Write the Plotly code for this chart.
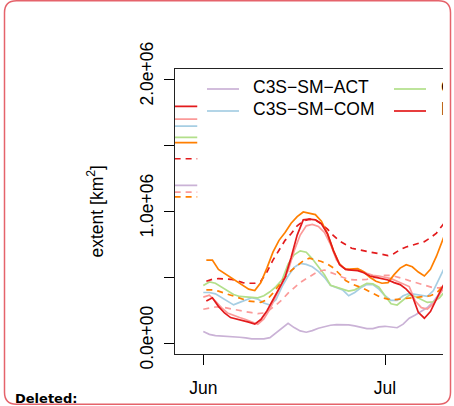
import pandas as pd
import plotly.graph_objects as go

# ---------------------------------------------------------------------------
# Daily extent values, in 10^6 km^2, from 1 June (41 days)
# ---------------------------------------------------------------------------
act = [0.089, 0.068, 0.058, 0.056, 0.051, 0.051, 0.046, 0.041, 0.033, 0.033,
       0.033, 0.043, 0.081, 0.119, 0.152, 0.119, 0.094, 0.084, 0.096, 0.114,
       0.127, 0.137, 0.142, 0.142, 0.139, 0.132, 0.119, 0.111, 0.111, 0.124,
       0.129, 0.125, 0.118, 0.145, 0.190, 0.215, 0.246, 0.271, 0.316, 0.380,
       0.443]
com = [0.385, 0.385, 0.375, 0.349, 0.320, 0.291, 0.310, 0.330, 0.345, 0.335,
       0.305, 0.290, 0.330, 0.430, 0.510, 0.575, 0.605, 0.598, 0.580, 0.545,
       0.500, 0.440, 0.420, 0.405, 0.360, 0.385, 0.420, 0.445, 0.445, 0.410,
       0.360, 0.325, 0.325, 0.360, 0.378, 0.370, 0.360, 0.355, 0.400, 0.500,
       0.590]
pas = [0.438, 0.465, 0.455, 0.425, 0.395, 0.370, 0.355, 0.350, 0.350, 0.345,
       0.360, 0.390, 0.430, 0.480, 0.600, 0.670, 0.700, 0.690, 0.640, 0.580,
       0.520, 0.440, 0.425, 0.410, 0.395, 0.405, 0.430, 0.455, 0.450, 0.425,
       0.360, 0.300, 0.290, 0.330, 0.365, 0.355, 0.335, 0.310, 0.315, 0.345,
       0.400]
era5 = [0.320, 0.345, 0.280, 0.230, 0.195, 0.185, 0.170, 0.160, 0.145, 0.180,
        0.245, 0.330, 0.410, 0.500, 0.650, 0.820, 0.935, 0.940, 0.935, 0.905,
        0.830, 0.700, 0.595, 0.560, 0.555, 0.550, 0.535, 0.510, 0.500, 0.490,
        0.480, 0.460, 0.445, 0.410, 0.360, 0.235, 0.190, 0.240, 0.340, 0.430,
        0.500]
era5_land = [0.350, 0.365, 0.320, 0.270, 0.230, 0.210, 0.195, 0.180, 0.160, 0.145,
             0.185, 0.260, 0.360, 0.460, 0.550, 0.700, 0.820, 0.890, 0.900, 0.885,
             0.840, 0.750, 0.630, 0.575, 0.555, 0.555, 0.555, 0.530, 0.515, 0.510,
             0.500, 0.490, 0.470, 0.450, 0.430, 0.320, 0.270, 0.260, 0.300, 0.370,
             0.440]
gldas = [0.630, 0.630, 0.560, 0.530, 0.500, 0.475, 0.445, 0.410, 0.400, 0.460,
         0.570, 0.690, 0.780, 0.840, 0.910, 0.960, 0.995, 0.985, 0.975, 0.925,
         0.830, 0.700, 0.600, 0.560, 0.560, 0.565, 0.540, 0.500, 0.470, 0.455,
         0.460, 0.520, 0.570, 0.595, 0.580, 0.540, 0.510, 0.560, 0.660, 0.790,
         0.900]
era5_clim = [0.470, 0.485, 0.490, 0.490, 0.485, 0.475, 0.460, 0.455, 0.455, 0.470,
             0.540, 0.630, 0.710, 0.780, 0.830, 0.890, 0.925, 0.940, 0.935, 0.905,
             0.865, 0.815, 0.775, 0.745, 0.720, 0.710, 0.700, 0.695, 0.685, 0.675,
             0.665, 0.680, 0.710, 0.730, 0.745, 0.760, 0.770, 0.800, 0.835, 0.895,
             0.950]
era5_land_clim = [0.258, 0.265, 0.275, 0.275, 0.265, 0.255, 0.250, 0.240, 0.232, 0.225,
                  0.230, 0.255, 0.290, 0.330, 0.380, 0.420, 0.460, 0.490, 0.520, 0.545,
                  0.555, 0.540, 0.520, 0.500, 0.485, 0.480, 0.480, 0.485, 0.495, 0.505,
                  0.515, 0.515, 0.505, 0.490, 0.475, 0.460, 0.445, 0.430, 0.420, 0.420,
                  0.435]
gldas_clim = [0.405, 0.405, 0.395, 0.380, 0.360, 0.345, 0.330, 0.320, 0.315, 0.310,
              0.330, 0.380, 0.440, 0.500, 0.550, 0.590, 0.625, 0.645, 0.635, 0.620,
              0.600, 0.570, 0.525, 0.475, 0.450, 0.435, 0.415, 0.390, 0.365, 0.345,
              0.335, 0.330, 0.335, 0.340, 0.340, 0.345, 0.355, 0.360, 0.380, 0.430,
              0.480]

# level held through the end of May, 10^6 km^2
may_level = {
    "act": 1.197, "com": 1.646, "pas": 1.560, "era5": 1.795, "era5_land": 1.698,
    "gldas": 1.521, "era5_clim": 1.398, "era5_land_clim": 1.146, "gldas_clim": 1.110,
}

legend_names = ["C3S\u2212SM\u2212ACT", "C3S\u2212SM\u2212COM",
                "C3S\u2212SM\u2212PAS", "ERA5\u2212Land"]

y_tickvals = [0.0, 0.5e6, 1.0e6, 1.5e6, 2.0e6]
y_ticktext = ["0.0e+00", "", "1.0e+06", "", "2.0e+06"]

# ---------------------------------------------------------------------------
june1 = pd.Timestamp("2019-06-01")
july1 = pd.Timestamp("2019-07-01")
days = pd.date_range(june1, periods=len(act), freq="D")
days_noon = days + pd.Timedelta(hours=12)
may_days = [pd.Timestamp("2019-05-20"), pd.Timestamp("2019-05-31")]

PURPLE, BLUE, GREEN = "#CAB2D6", "#A6CEE3", "#B2DF8A"
RED, PINK, ORANGE = "#E31A1C", "#FB9A99", "#FF7F00"
DASH = "6px,5px"
LW = 1.7

series = [
    ("act", act, days, PURPLE, "solid"),
    ("com", com, days, BLUE, "solid"),
    ("pas", pas, days, GREEN, "solid"),
    ("era5_land_clim", era5_land_clim, days, PINK, DASH),
    ("gldas_clim", gldas_clim, days_noon, ORANGE, DASH),
    ("era5_clim", era5_clim, days_noon, RED, DASH),
    ("era5_land", era5_land, days, PINK, "solid"),
    ("gldas", gldas, days_noon, ORANGE, "solid"),
    ("era5", era5, days_noon, RED, "solid"),
]

# ---------------------------------------------------------------------------
# panel geometry (pixels) and axis ranges
# ---------------------------------------------------------------------------
W, H = 454, 406
PX_L, PX_R, PX_T, PX_B = 175, 443, 69, 354
JUN_PX, JUL_PX = 203.3, 385.0
day_px = (JUL_PX - JUN_PX) / 30.0
Y0, Y1 = -0.081e6, 2.078e6


def px_to_date(px):
    return june1 + pd.Timedelta(days=(px - JUN_PX) / day_px)


def py_to_val(py):
    return Y0 + (PX_B - py) / (PX_B - PX_T) * (Y1 - Y0)


def px_x(px):
    return (px - PX_L) / (PX_R - PX_L)


def px_y(py):
    return (PX_B - py) / (PX_B - PX_T)


fig = go.Figure()
for key, vals, t, col, dash in series:
    xs = list(may_days) + [None] + list(t)
    ys = [may_level[key] * 1e6] * 2 + [None] + [v * 1e6 for v in vals]
    fig.add_trace(go.Scatter(x=xs, y=ys, mode="lines", connectgaps=False,
                             line=dict(color=col, width=LW, dash=dash),
                             showlegend=False, hoverinfo="skip"))

# in-plot legend (two rows, columns running off the right edge)
leg_rows = [89, 111]
leg_cols = [(207, 239, 253), (394, 426, 441)]
leg_colors = [PURPLE, BLUE, GREEN, RED]
for i, (name, col) in enumerate(zip(legend_names, leg_colors)):
    x0, x1, xt = leg_cols[i // 2]
    yv = py_to_val(leg_rows[i % 2])
    fig.add_trace(go.Scatter(x=[px_to_date(x0), px_to_date(x1)], y=[yv, yv],
                             mode="lines", line=dict(color=col, width=LW),
                             showlegend=False, hoverinfo="skip"))
    fig.add_trace(go.Scatter(x=[px_to_date(xt)], y=[yv],
                             mode="text", text=[name], textposition="middle right",
                             textfont=dict(family="Liberation Sans", size=17.5,
                                           color="black"),
                             cliponaxis=True, showlegend=False, hoverinfo="skip"))

FONT = dict(family="Liberation Sans, Arial, sans-serif", size=17.5, color="black")

fig.update_layout(
    width=W, height=H,
    margin=dict(l=PX_L, r=W - PX_R, t=PX_T, b=H - PX_B, pad=0),
    paper_bgcolor="white", plot_bgcolor="white",
    font=FONT,
    showlegend=False,
    xaxis=dict(type="date", range=[px_to_date(PX_L), px_to_date(PX_R)],
               tickvals=[june1, july1], ticktext=["Jun", "Jul"],
               ticks="outside", ticklen=10, tickwidth=1, tickcolor="black",
               showline=True, linecolor="#222", linewidth=1.2, mirror=True,
               showgrid=False, zeroline=False, tickfont=FONT,
               ticklabelstandoff=8, automargin=False),
    yaxis=dict(range=[Y0, Y1],
               tickvals=y_tickvals, ticktext=y_ticktext, tickangle=-90,
               ticks="outside", ticklen=10, tickwidth=1, tickcolor="black",
               showline=True, linecolor="#222", linewidth=1.2, mirror=False,
               showgrid=False, zeroline=False, tickfont=FONT,
               ticklabelstandoff=4, ticklabelshift=-3, automargin=False),
)

fig.add_annotation(text="extent [km<sup>2</sup>]", textangle=-90,
                   xref="paper", yref="paper", x=px_x(95), y=px_y(211.5),
                   xanchor="center", yanchor="middle", showarrow=False, font=FONT)

fig.add_annotation(text="<b>Deleted:</b>", xref="paper", yref="paper",
                   x=px_x(13), y=px_y(398.5), xanchor="left", yanchor="middle",
                   showarrow=False,
                   font=dict(family="DejaVu Sans", size=13, color="black"))

# blank strip to the right of the plotting region, then the rounded frame
fig.add_shape(type="rect", xref="paper", yref="paper",
              x0=px_x(443.6), x1=px_x(449.6), y0=px_y(130), y1=px_y(70),
              line=dict(width=0), fillcolor="white", layer="above")

L, R, T, B, r = 4.5, 450.5, 0.8, 404.3, 12
path = (f"M {px_x(L + r)},{px_y(T)} L {px_x(R - r)},{px_y(T)} "
        f"Q {px_x(R)},{px_y(T)} {px_x(R)},{px_y(T + r)} "
        f"L {px_x(R)},{px_y(B - r)} Q {px_x(R)},{px_y(B)} {px_x(R - r)},{px_y(B)} "
        f"L {px_x(L + r)},{px_y(B)} Q {px_x(L)},{px_y(B)} {px_x(L)},{px_y(B - r)} "
        f"L {px_x(L)},{px_y(T + r)} Q {px_x(L)},{px_y(T)} {px_x(L + r)},{px_y(T)} Z")
fig.add_shape(type="path", path=path, xref="paper", yref="paper",
              line=dict(color="#E5636B", width=1.5), fillcolor="rgba(0,0,0,0)",
              layer="above")

fig.write_html("out.html")
